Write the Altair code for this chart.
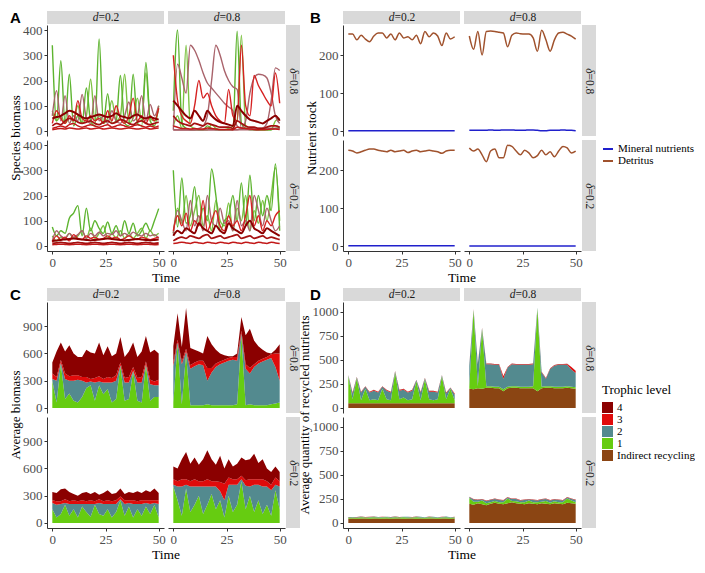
import altair as alt
import pandas as pd

TIME = [0, 2, 4, 6, 8, 10, 12, 14, 16, 18, 20, 22, 24, 26, 28, 30, 32, 34, 36, 38, 40, 42, 44, 46, 48, 50]
D_VALUES = ["0.2", "0.8"]        # columns
DELTA_VALUES = ["0.8", "0.2"]    # rows (top, bottom)

# ---------------- Panel A : species biomass ----------------
A_d02_s08_g1 = [340, 40, 278, 30, 225, 20, 60, 30, 170, 40, 20, 365, 30, 148, 30, 40, 220, 30, 20, 225, 30, 20, 272, 40, 20, 100]
A_d02_s08_g2 = [80, 40, 60, 30, 50, 40, 100, 30, 60, 205, 40, 60, 30, 50, 120, 40, 60, 225, 30, 50, 130, 40, 230, 50, 40, 90]
A_d02_s08_m1 = [60, 160, 40, 140, 30, 60, 40, 145, 50, 30, 140, 40, 60, 30, 80, 40, 30, 60, 115, 40, 60, 140, 40, 105, 60, 100]
A_d02_s08_r1 = [30, 80, 50, 30, 60, 40, 120, 50, 40, 60, 40, 50, 30, 80, 40, 100, 50, 30, 60, 130, 40, 60, 30, 60, 40, 90]
A_d02_s08_k1 = [50, 55, 60, 70, 80, 75, 65, 55, 50, 55, 60, 65, 60, 55, 60, 70, 60, 55, 50, 60, 65, 55, 50, 55, 50, 45]
A_d02_s08_q1 = [20, 30, 25, 40, 50, 45, 35, 30, 35, 40, 30, 25, 35, 40, 30, 35, 45, 40, 30, 25, 35, 40, 30, 25, 30, 35]
A_d02_s08_s1 = [10, 15, 20, 15, 25, 30, 20, 15, 20, 25, 20, 15, 20, 25, 15, 20, 25, 20, 15, 20, 25, 20, 15, 20, 15, 20]
A_d02_s08_s2 = [5, 8, 10, 8, 12, 10, 8, 10, 12, 8, 10, 12, 8, 10, 12, 10, 8, 10, 12, 10, 8, 10, 12, 8, 10, 12]

A_d08_s08_g1 = [80, 400, 30, 10, 5, 5, 5, 5, 20, 10, 5, 5, 5, 5, 5, 395, 30, 10, 5, 5, 5, 5, 5, 5, 10, 15]
A_d08_s08_g2 = [20, 60, 10, 340, 20, 10, 5, 5, 5, 25, 10, 5, 5, 10, 20, 40, 380, 20, 10, 5, 5, 5, 5, 5, 40, 50]
A_d08_s08_m1 = [5, 265, 210, 150, 340, 320, 280, 230, 190, 170, 150, 130, 110, 95, 80, 20, 10, 10, 10, 10, 10, 10, 10, 10, 10, 10]
A_d08_s08_m2 = [5, 5, 5, 5, 5, 5, 10, 20, 60, 200, 340, 300, 240, 200, 175, 165, 10, 10, 10, 10, 10, 10, 10, 10, 10, 10]
A_d08_s08_m3 = [5, 5, 5, 5, 5, 5, 5, 5, 5, 5, 5, 5, 5, 5, 5, 5, 10, 40, 150, 210, 225, 222, 210, 150, 60, 30]
A_d08_s08_m4 = [5, 5, 5, 5, 5, 5, 5, 5, 5, 5, 5, 5, 5, 5, 5, 5, 5, 5, 5, 5, 5, 10, 30, 120, 250, 240]
A_d08_s08_r1 = [300, 120, 60, 40, 30, 100, 200, 130, 150, 100, 60, 40, 30, 165, 60, 40, 340, 100, 60, 220, 180, 150, 120, 100, 230, 110]
A_d08_s08_k1 = [120, 100, 80, 60, 50, 80, 60, 40, 80, 60, 45, 35, 30, 25, 20, 100, 80, 60, 45, 40, 35, 30, 40, 50, 60, 40]
A_d08_s08_q1 = [60, 40, 30, 25, 20, 30, 25, 20, 30, 25, 20, 15, 15, 15, 10, 40, 30, 20, 15, 15, 10, 10, 15, 20, 20, 15]
A_d08_s08_s1 = [20, 15, 10, 10, 8, 10, 8, 8, 12, 10, 8, 6, 6, 6, 5, 15, 12, 10, 8, 6, 5, 5, 6, 8, 8, 6]

A_d02_s02_g1 = [75, 40, 60, 50, 110, 130, 160, 40, 150, 60, 100, 70, 50, 95, 50, 80, 40, 100, 50, 90, 40, 60, 90, 60, 100, 148]
A_d02_s02_g2 = [40, 20, 35, 30, 50, 30, 40, 60, 30, 70, 30, 50, 80, 30, 50, 30, 60, 30, 50, 30, 50, 70, 30, 60, 40, 50]
A_d02_s02_m1 = [20, 60, 40, 30, 50, 35, 45, 60, 30, 50, 40, 55, 40, 50, 45, 60, 40, 50, 40, 55, 45, 40, 50, 40, 45, 30]
A_d02_s02_r1 = [15, 40, 25, 35, 20, 45, 30, 25, 40, 30, 35, 25, 30, 40, 30, 35, 25, 30, 40, 30, 25, 35, 30, 25, 30, 35]
A_d02_s02_k1 = [20, 22, 24, 26, 28, 30, 28, 26, 24, 22, 24, 26, 28, 30, 28, 26, 24, 22, 24, 26, 28, 26, 24, 22, 24, 26]
A_d02_s02_q1 = [10, 12, 14, 12, 10, 12, 14, 12, 10, 12, 14, 12, 10, 12, 14, 12, 10, 12, 14, 12, 10, 12, 14, 12, 10, 12]
A_d02_s02_s1 = [5, 6, 7, 6, 5, 6, 7, 6, 5, 6, 7, 6, 5, 6, 7, 6, 5, 6, 7, 6, 5, 6, 7, 6, 5, 6]

A_d08_s02_g1 = [300, 75, 270, 90, 120, 235, 80, 150, 100, 305, 200, 60, 100, 120, 200, 100, 250, 80, 280, 100, 200, 120, 200, 140, 325, 60]
A_d08_s02_g2 = [50, 150, 90, 200, 80, 140, 200, 80, 120, 60, 180, 100, 80, 170, 60, 150, 100, 200, 60, 140, 90, 180, 100, 200, 310, 100]
A_d08_s02_m1 = [50, 140, 100, 60, 180, 80, 120, 60, 200, 100, 80, 150, 90, 100, 60, 180, 80, 100, 60, 200, 140, 80, 150, 100, 60, 80]
A_d08_s02_r1 = [60, 120, 80, 130, 60, 100, 80, 180, 60, 100, 140, 80, 60, 120, 80, 100, 60, 120, 200, 80, 120, 60, 100, 80, 120, 140]
A_d08_s02_k1 = [40, 60, 50, 70, 60, 50, 90, 70, 60, 50, 80, 60, 50, 90, 70, 60, 50, 80, 100, 70, 60, 50, 70, 60, 50, 40]
A_d08_s02_q1 = [20, 30, 35, 30, 40, 35, 30, 40, 45, 30, 35, 40, 30, 35, 40, 45, 30, 35, 40, 30, 35, 40, 30, 35, 30, 25]
A_d08_s02_s1 = [10, 12, 15, 12, 10, 15, 12, 10, 15, 12, 10, 15, 12, 10, 15, 12, 10, 15, 12, 10, 15, 12, 10, 15, 12, 10]

# ---------------- Panel B : nutrient stock ----------------
B_d02_s08_det = [255, 255, 240, 252, 242, 235, 250, 258, 258, 245, 255, 240, 258, 245, 248, 240, 252, 230, 262, 248, 258, 250, 225, 258, 242, 248]
B_d02_s08_min = [1, 1, 1, 1, 1, 1, 1, 1, 1, 1, 1, 1, 1, 1, 1, 1, 1, 1, 1, 1, 1, 1, 1, 1, 1, 1]
B_d08_s08_det = [250, 215, 262, 200, 262, 263, 262, 260, 258, 222, 252, 258, 256, 255, 255, 245, 210, 265, 240, 210, 240, 258, 260, 255, 250, 242]
B_d08_s08_min = [2, 2, 2, 2, 2, 3, 2, 2, 3, 3, 3, 2, 2, 2, 3, 3, 2, 1, 1, 2, 2, 2, 3, 2, 2, 1]
B_d02_s02_det = [252, 250, 245, 248, 252, 255, 255, 252, 250, 248, 252, 248, 250, 252, 246, 250, 252, 248, 250, 252, 250, 248, 244, 250, 252, 252]
B_d02_s02_min = [0.5, 0.5, 0.5, 0.5, 0.5, 0.5, 0.5, 0.5, 0.5, 0.5, 0.5, 0.5, 0.5, 0.5, 0.5, 0.5, 0.5, 0.5, 0.5, 0.5, 0.5, 0.5, 0.5, 0.5, 0.5, 0.5]
B_d08_s02_det = [258, 250, 255, 240, 222, 250, 255, 232, 232, 265, 262, 250, 240, 252, 245, 232, 238, 252, 240, 248, 235, 250, 262, 258, 245, 250]
B_d08_s02_min = [0.3, 0.3, 0.3, 0.3, 0.3, 0.3, 0.3, 0.3, 0.3, 0.3, 0.3, 0.3, 0.3, 0.3, 0.3, 0.3, 0.3, 0.3, 0.3, 0.3, 0.3, 0.3, 0.3, 0.3, 0.3, 0.3]

# ---------------- Panel C : average biomass per trophic level ----------------
C_d02_s08_l1 = [300, 60, 480, 100, 160, 80, 60, 120, 220, 250, 80, 250, 150, 210, 60, 100, 460, 80, 100, 400, 80, 60, 470, 80, 120, 120]
C_d02_s08_l2 = [20, 240, 20, 220, 140, 220, 250, 180, 60, 40, 200, 40, 130, 70, 220, 200, 10, 200, 180, 10, 200, 220, 10, 180, 130, 130]
C_d02_s08_l3 = [60, 40, 30, 60, 50, 60, 50, 40, 60, 30, 50, 60, 40, 60, 50, 60, 30, 50, 60, 40, 50, 60, 30, 50, 40, 60]
C_d02_s08_l4 = [120, 280, 190, 240, 340, 240, 200, 220, 300, 290, 270, 370, 260, 340, 240, 240, 280, 230, 280, 270, 230, 280, 280, 300, 350, 290]

C_d08_s08_l1 = [60, 700, 40, 600, 30, 30, 30, 30, 40, 30, 30, 30, 30, 30, 30, 40, 800, 30, 40, 30, 30, 30, 30, 40, 50, 60]
C_d08_s08_l2 = [400, 20, 440, 20, 400, 430, 450, 440, 260, 360, 420, 450, 470, 490, 500, 480, 20, 400, 340, 420, 460, 480, 500, 510, 400, 240]
C_d08_s08_l3 = [40, 30, 30, 30, 40, 40, 40, 50, 140, 50, 40, 30, 30, 30, 30, 40, 30, 50, 60, 30, 30, 30, 30, 40, 150, 300]
C_d08_s08_l4 = [180, 290, 160, 450, 190, 140, 100, 80, 350, 260, 150, 90, 50, 20, 10, 40, 150, 320, 430, 260, 160, 100, 50, 10, 40, 100]

C_d02_s02_l1 = [150, 60, 100, 200, 80, 150, 60, 180, 120, 70, 200, 100, 80, 150, 60, 120, 250, 80, 180, 60, 150, 80, 180, 100, 200, 60]
C_d02_s02_l2 = [70, 140, 110, 20, 130, 60, 150, 30, 90, 140, 10, 120, 130, 60, 150, 90, 10, 130, 40, 150, 60, 130, 40, 110, 20, 150]
C_d02_s02_l3 = [30, 40, 30, 40, 30, 40, 30, 40, 30, 40, 30, 40, 30, 40, 30, 40, 30, 40, 30, 40, 30, 40, 30, 40, 30, 40]
C_d02_s02_l4 = [90, 90, 130, 120, 100, 70, 60, 80, 100, 70, 100, 50, 90, 110, 80, 80, 90, 70, 90, 80, 110, 80, 110, 90, 130, 80]

C_d08_s02_l1 = [400, 250, 80, 380, 120, 200, 300, 100, 200, 320, 150, 250, 60, 300, 120, 200, 460, 150, 300, 120, 250, 100, 200, 80, 360, 150]
C_d08_s02_l2 = [20, 150, 320, 40, 280, 200, 100, 300, 200, 80, 250, 100, 190, 120, 300, 220, 20, 260, 100, 300, 170, 300, 200, 280, 60, 250]
C_d08_s02_l3 = [60, 60, 80, 60, 60, 80, 60, 60, 80, 60, 60, 100, 180, 80, 60, 60, 40, 60, 80, 60, 60, 80, 60, 60, 80, 60]
C_d08_s02_l4 = [140, 140, 220, 300, 190, 240, 180, 240, 320, 240, 180, 290, 170, 200, 140, 170, 200, 220, 220, 280, 180, 220, 140, 140, 120, 100]

# ---------------- Panel D : recycled nutrients ----------------
D_d02_s08_ind = [50, 50, 50, 50, 50, 50, 50, 50, 50, 50, 50, 50, 50, 50, 50, 50, 50, 50, 50, 50, 50, 50, 50, 50, 50, 50]
D_d02_s08_l1 = [280, 40, 260, 30, 150, 30, 40, 30, 150, 40, 30, 320, 40, 60, 30, 40, 230, 30, 250, 40, 30, 40, 280, 40, 150, 30]
D_d02_s08_l2 = [10, 60, 10, 80, 20, 80, 90, 80, 20, 90, 80, 10, 90, 80, 80, 90, 10, 80, 10, 80, 90, 70, 10, 60, 10, 60]
D_d02_s08_l3 = [3, 8, 3, 8, 4, 8, 8, 8, 4, 8, 8, 3, 8, 8, 8, 8, 3, 8, 3, 8, 8, 8, 3, 8, 3, 10]
D_d02_s08_l4 = [1, 2, 1, 2, 1, 2, 2, 2, 1, 2, 2, 1, 2, 2, 2, 2, 1, 2, 1, 2, 2, 2, 1, 2, 1, 2]

D_d08_s08_ind = [200, 195, 205, 200, 210, 210, 205, 205, 175, 205, 210, 210, 205, 205, 205, 205, 175, 205, 210, 210, 205, 205, 205, 210, 205, 200]
D_d08_s08_l1 = [20, 820, 20, 620, 15, 15, 15, 15, 20, 15, 15, 15, 15, 15, 15, 20, 860, 15, 15, 15, 15, 15, 15, 15, 15, 15]
D_d08_s08_l2 = [220, 10, 230, 10, 230, 230, 230, 230, 110, 200, 230, 225, 230, 230, 230, 230, 10, 150, 80, 180, 220, 230, 230, 225, 180, 150]
D_d08_s08_l3 = [5, 3, 5, 3, 5, 5, 5, 5, 25, 5, 5, 5, 5, 5, 5, 5, 3, 5, 5, 5, 5, 5, 5, 8, 25, 20]
D_d08_s08_l4 = [2, 2, 2, 2, 2, 2, 2, 2, 2, 2, 2, 2, 2, 2, 2, 2, 2, 2, 2, 2, 2, 2, 2, 2, 2, 2]

D_d02_s02_ind = [45, 46, 45, 47, 46, 45, 46, 47, 45, 46, 45, 47, 46, 45, 46, 47, 45, 46, 45, 47, 46, 45, 46, 47, 45, 46]
D_d02_s02_l1 = [10, 12, 10, 14, 10, 12, 15, 10, 12, 14, 10, 12, 10, 14, 12, 10, 15, 12, 10, 14, 12, 10, 12, 14, 10, 12]
D_d02_s02_l2 = [5, 4, 6, 4, 5, 6, 4, 5, 6, 4, 5, 6, 4, 5, 6, 4, 5, 6, 4, 5, 6, 4, 5, 6, 4, 5]
D_d02_s02_l3 = [1, 1, 1, 1, 1, 1, 1, 1, 1, 1, 1, 1, 1, 1, 1, 1, 1, 1, 1, 1, 1, 1, 1, 1, 1, 1]
D_d02_s02_l4 = [0.5, 0.5, 0.5, 0.5, 0.5, 0.5, 0.5, 0.5, 0.5, 0.5, 0.5, 0.5, 0.5, 0.5, 0.5, 0.5, 0.5, 0.5, 0.5, 0.5, 0.5, 0.5, 0.5, 0.5, 0.5, 0.5]

D_d08_s02_ind = [200, 190, 205, 195, 185, 200, 210, 200, 195, 205, 215, 205, 200, 195, 205, 200, 195, 205, 200, 195, 205, 200, 195, 210, 205, 200]
D_d08_s02_l1 = [60, 30, 15, 40, 20, 15, 20, 15, 20, 50, 15, 20, 15, 20, 30, 15, 20, 15, 30, 15, 20, 15, 20, 45, 30, 15]
D_d08_s02_l2 = [10, 25, 20, 10, 25, 25, 20, 25, 20, 10, 20, 25, 20, 25, 10, 25, 20, 25, 20, 25, 20, 25, 20, 10, 15, 25]
D_d08_s02_l3 = [3, 3, 3, 3, 3, 3, 3, 3, 3, 3, 3, 3, 3, 3, 3, 3, 3, 3, 3, 3, 3, 3, 3, 3, 3, 3]
D_d08_s02_l4 = [1, 1, 1, 1, 1, 1, 1, 1, 1, 1, 1, 1, 1, 1, 1, 1, 1, 1, 1, 1, 1, 1, 1, 1, 1, 1]

# ---------------- styling ----------------
W, H = 117, 111
SPACER_W, SPACER_H = 50, 43
SERIF = "Liberation Serif"
SANS = "Liberation Sans"
SPECIES_COLOR = {"g": "#5db42f", "h": "#7cc242", "m": "#a9636b", "r": "#d62222",
                 "k": "#8b0000", "q": "#a51010", "s": "#c21818"}
SPECIES_WIDTH = {"g": 1.4, "h": 1.4, "m": 1.4, "r": 1.4, "k": 2.0, "q": 1.7, "s": 1.5}
LEVEL_DOMAIN = ["4", "3", "2", "1", "Indirect recycling"]
LEVEL_RANGE = ["#8b0000", "#e00b0b", "#538a8f", "#66cc11", "#8b4513"]
LEVEL_ORDER = {"Indirect recycling": 0, "1": 1, "2": 2, "3": 3, "4": 4}
NUT_DOMAIN = ["Mineral nutrients", "Detritus"]
NUT_RANGE = ["#2020cc", "#a0522d"]

A_SERIES = {
    ("0.2", "0.8"): [("h", A_d02_s08_g2), ("g", A_d02_s08_g1), ("m", A_d02_s08_m1), ("r", A_d02_s08_r1),
                     ("s", A_d02_s08_s2), ("s", A_d02_s08_s1), ("q", A_d02_s08_q1), ("k", A_d02_s08_k1)],
    ("0.8", "0.8"): [("h", A_d08_s08_g2), ("g", A_d08_s08_g1), ("m", A_d08_s08_m1), ("m", A_d08_s08_m2),
                     ("m", A_d08_s08_m3), ("m", A_d08_s08_m4), ("r", A_d08_s08_r1),
                     ("s", A_d08_s08_s1), ("q", A_d08_s08_q1), ("k", A_d08_s08_k1)],
    ("0.2", "0.2"): [("h", A_d02_s02_g2), ("g", A_d02_s02_g1), ("m", A_d02_s02_m1), ("r", A_d02_s02_r1),
                     ("s", A_d02_s02_s1), ("q", A_d02_s02_q1), ("k", A_d02_s02_k1)],
    ("0.8", "0.2"): [("h", A_d08_s02_g2), ("g", A_d08_s02_g1), ("m", A_d08_s02_m1), ("r", A_d08_s02_r1),
                     ("s", A_d08_s02_s1), ("q", A_d08_s02_q1), ("k", A_d08_s02_k1)],
}
B_SERIES = {
    ("0.2", "0.8"): (B_d02_s08_min, B_d02_s08_det),
    ("0.8", "0.8"): (B_d08_s08_min, B_d08_s08_det),
    ("0.2", "0.2"): (B_d02_s02_min, B_d02_s02_det),
    ("0.8", "0.2"): (B_d08_s02_min, B_d08_s02_det),
}
C_SERIES = {
    ("0.2", "0.8"): [("1", C_d02_s08_l1), ("2", C_d02_s08_l2), ("3", C_d02_s08_l3), ("4", C_d02_s08_l4)],
    ("0.8", "0.8"): [("1", C_d08_s08_l1), ("2", C_d08_s08_l2), ("3", C_d08_s08_l3), ("4", C_d08_s08_l4)],
    ("0.2", "0.2"): [("1", C_d02_s02_l1), ("2", C_d02_s02_l2), ("3", C_d02_s02_l3), ("4", C_d02_s02_l4)],
    ("0.8", "0.2"): [("1", C_d08_s02_l1), ("2", C_d08_s02_l2), ("3", C_d08_s02_l3), ("4", C_d08_s02_l4)],
}
D_SERIES = {
    ("0.2", "0.8"): [("Indirect recycling", D_d02_s08_ind), ("1", D_d02_s08_l1), ("2", D_d02_s08_l2), ("3", D_d02_s08_l3), ("4", D_d02_s08_l4)],
    ("0.8", "0.8"): [("Indirect recycling", D_d08_s08_ind), ("1", D_d08_s08_l1), ("2", D_d08_s08_l2), ("3", D_d08_s08_l3), ("4", D_d08_s08_l4)],
    ("0.2", "0.2"): [("Indirect recycling", D_d02_s02_ind), ("1", D_d02_s02_l1), ("2", D_d02_s02_l2), ("3", D_d02_s02_l3), ("4", D_d02_s02_l4)],
    ("0.8", "0.2"): [("Indirect recycling", D_d08_s02_ind), ("1", D_d08_s02_l1), ("2", D_d08_s02_l2), ("3", D_d08_s02_l3), ("4", D_d08_s02_l4)],
}

PANELS = {
    "A": dict(title="Species biomass", ydom=[-20, 420], yvals=[0, 100, 200, 300, 400], title_x=-31, letter_x=-37),
    "B": dict(title="Nutrient stock", ydom=[-13, 279], yvals=[0, 100, 200], title_x=-31, letter_x=-33),
    "C": dict(title="Average biomass", ydom=[-55, 1165], yvals=[0, 300, 600, 900], title_x=-31, letter_x=-37),
    "D": dict(title="Average quantity of recycled nutrients", ydom=[-52, 1102], yvals=[0, 250, 500, 750, 1000], title_x=-38, letter_x=-33),
}

ONE = pd.DataFrame({"k": [0]})


def deco(panel, ci, ri):
    p = PANELS[panel]
    base = alt.Chart(ONE)
    out = []
    if ri == 0:
        out.append(base.mark_rect(color="#d9d9d9").encode(
            x=alt.value(0), x2=alt.value(W), y=alt.value(-14), y2=alt.value(-1)))
        out.append(base.mark_text(text="d", font=SERIF, fontSize=11.5, fontStyle="italic", align="right",
                                  baseline="middle", color="#1a1a1a").encode(x=alt.value(W / 2 - 7), y=alt.value(-7.5)))
        out.append(base.mark_text(text="=" + D_VALUES[ci], font=SERIF, fontSize=11.5, align="left",
                                  baseline="middle", color="#1a1a1a").encode(x=alt.value(W / 2 - 7), y=alt.value(-7.5)))
    if ci == 1:
        out.append(base.mark_rect(color="#d9d9d9").encode(
            x=alt.value(W + 1), x2=alt.value(W + 15), y=alt.value(0), y2=alt.value(H)))
        out.append(base.mark_text(text="δ", font=SERIF, fontSize=11.5, fontStyle="italic", align="right", angle=90,
                                  baseline="middle", color="#1a1a1a").encode(x=alt.value(W + 8), y=alt.value(H / 2 - 7)))
        out.append(base.mark_text(text="=" + DELTA_VALUES[ri], font=SERIF, fontSize=11.5, align="left", angle=90,
                                  baseline="middle", color="#1a1a1a").encode(x=alt.value(W + 8), y=alt.value(H / 2 - 7)))
    if ci == 0 and ri == 0:
        out.append(base.mark_text(text=p["title"], font=SERIF, fontSize=13, angle=270, align="center",
                                  baseline="middle", color="black").encode(x=alt.value(p["title_x"]), y=alt.value(H + 2)))
        out.append(base.mark_text(text=panel, font=SANS, fontSize=15, fontWeight="bold", align="left",
                                  baseline="top", color="black").encode(x=alt.value(p["letter_x"]), y=alt.value(-14)))
    if ci == 0 and ri == 1:
        out.append(base.mark_text(text="Time", font=SERIF, fontSize=13.5, align="center",
                                  baseline="top", color="black").encode(x=alt.value(W + 2), y=alt.value(H + 20)))
    return out


def xenc(bottom):
    return alt.X("t:Q", scale=alt.Scale(domain=[-2.5, 52.5], nice=False, zero=False),
                 axis=alt.Axis(values=[0, 25, 50], title=None, format="d") if bottom else None)


def yenc(panel, left, stack=False):
    p = PANELS[panel]
    kw = dict(scale=alt.Scale(domain=p["ydom"], nice=False, zero=False),
              axis=alt.Axis(values=p["yvals"], title=None, format="d") if left else None)
    if stack:
        kw["stack"] = "zero"
    return alt.Y("v:Q", **kw)


def cell_A(ci, ri):
    key = (D_VALUES[ci], DELTA_VALUES[ri])
    rows = []
    for i, (role, vals) in enumerate(A_SERIES[key]):
        for t, v in zip(TIME, vals):
            rows.append({"t": t, "v": v, "sp": f"{i:02d}{role}", "col": SPECIES_COLOR[role], "sw": SPECIES_WIDTH[role]})
    main = alt.Chart(pd.DataFrame(rows)).mark_line(interpolate="monotone").encode(
        x=xenc(ri == 1), y=yenc("A", ci == 0), detail="sp:N",
        color=alt.Color("col:N", scale=None), strokeWidth=alt.StrokeWidth("sw:Q", scale=None))
    return alt.layer(main, *deco("A", ci, ri)).properties(width=W, height=H)


def cell_B(ci, ri):
    key = (D_VALUES[ci], DELTA_VALUES[ri])
    rows = []
    for name, vals in zip(NUT_DOMAIN, B_SERIES[key]):
        for t, v in zip(TIME, vals):
            rows.append({"t": t, "v": v, "var": name})
    show = (ci == 1 and ri == 1)
    leg = alt.Legend(title=None, orient="none", legendX=W + 21, legendY=3, symbolType="stroke",
                     symbolStrokeWidth=2, symbolSize=100, labelFont=SERIF, labelFontSize=11,
                     labelColor="black", rowPadding=1) if show else None
    main = alt.Chart(pd.DataFrame(rows)).mark_line(interpolate="monotone", strokeWidth=1.5).encode(
        x=xenc(ri == 1), y=yenc("B", ci == 0),
        color=alt.Color("var:N", scale=alt.Scale(domain=NUT_DOMAIN, range=NUT_RANGE), legend=leg))
    return alt.layer(main, *deco("B", ci, ri)).properties(width=W, height=H)


def cell_stack(panel, series, ci, ri, show_legend):
    key = (D_VALUES[ci], DELTA_VALUES[ri])
    rows = []
    for lvl, vals in series[key]:
        for t, v in zip(TIME, vals):
            rows.append({"t": t, "v": v, "lvl": lvl, "ord": LEVEL_ORDER[lvl]})
    leg = alt.Legend(title="Trophic level", orient="none", legendX=W + 21, legendY=82, symbolType="square",
                     symbolSize=121, symbolStrokeWidth=0, labelFont=SERIF, labelFontSize=11, labelColor="black",
                     titleFont=SERIF, titleFontSize=13, titleFontWeight="normal", titleColor="black",
                     titlePadding=5, rowPadding=0) if show_legend else None
    main = alt.Chart(pd.DataFrame(rows)).mark_area(interpolate="linear").encode(
        x=xenc(ri == 1), y=yenc(panel, ci == 0, stack=True),
        color=alt.Color("lvl:N", scale=alt.Scale(domain=LEVEL_DOMAIN, range=LEVEL_RANGE), legend=leg),
        order=alt.Order("ord:Q", sort="ascending"))
    return alt.layer(main, *deco(panel, ci, ri)).properties(width=W, height=H)


def spacer(w, h):
    return alt.Chart(ONE).mark_point(opacity=0).encode(x=alt.value(0), y=alt.value(0)).properties(width=w, height=h)


cells = []
for ri in range(2):
    cells += [cell_A(0, ri), cell_A(1, ri), spacer(SPACER_W, 1), cell_B(0, ri), cell_B(1, ri)]
cells += [spacer(1, SPACER_H), spacer(1, SPACER_H), spacer(SPACER_W, SPACER_H), spacer(1, SPACER_H), spacer(1, SPACER_H)]
for ri in range(2):
    cells += [cell_stack("C", C_SERIES, 0, ri, False), cell_stack("C", C_SERIES, 1, ri, False), spacer(SPACER_W, 1),
              cell_stack("D", D_SERIES, 0, ri, False), cell_stack("D", D_SERIES, 1, ri, ri == 0)]

chart = alt.concat(*cells, columns=5, spacing=4, bounds="flush", align="each").resolve_scale(
    x="independent", y="independent", color="independent"
).properties(padding={"left": 2, "top": 3, "right": 0, "bottom": 1}, background="white").configure_axis(
    labelFont=SERIF, labelFontSize=13, labelColor="#4d4d4d", tickColor="#333333", domainColor="#333333",
    tickSize=3, grid=False, domainWidth=1, tickWidth=1, labelPadding=2
).configure_view(stroke=None)

chart.save("out.html", embed_options={"renderer": "svg", "actions": False})
